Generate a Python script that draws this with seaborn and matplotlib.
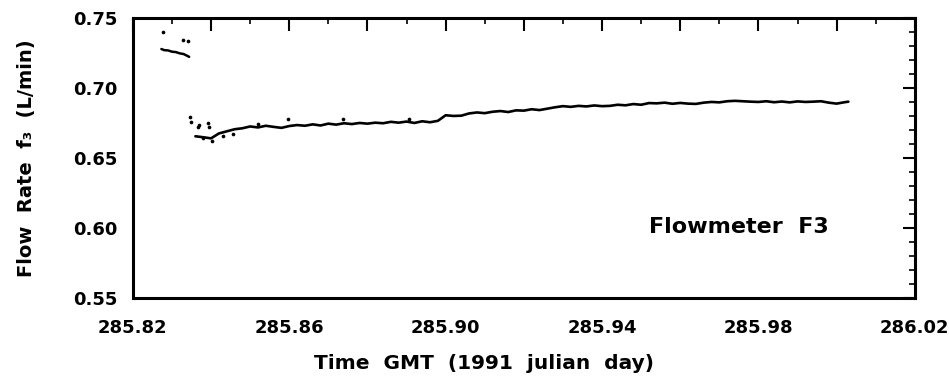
import matplotlib
matplotlib.use("Agg")
import matplotlib.pyplot as plt
from matplotlib.ticker import FixedLocator, MultipleLocator
import seaborn as sns

# Flowmeter F3 record
# short first stretch before the drop
upper_time = [285.8273, 285.8280, 285.8290, 285.8300, 285.8310,
              285.8320, 285.8330, 285.8340, 285.8344]
upper_flow = [0.7278, 0.7270, 0.7268, 0.7259, 0.7256,
              0.7247, 0.7242, 0.7228, 0.7222]

# main trace after the drop
lower_time = [285.836, 285.838, 285.840, 285.842, 285.844, 285.846, 285.848,
              285.850, 285.852, 285.854, 285.856, 285.858, 285.860, 285.862,
              285.864, 285.866, 285.868, 285.870, 285.872, 285.874, 285.876,
              285.878, 285.880, 285.882, 285.884, 285.886, 285.888, 285.890,
              285.892, 285.894, 285.896, 285.898, 285.900, 285.902, 285.904,
              285.906, 285.908, 285.910, 285.912, 285.914, 285.916, 285.918,
              285.920, 285.922, 285.924, 285.926, 285.928, 285.930, 285.932,
              285.934, 285.936, 285.938, 285.940, 285.942, 285.944, 285.946,
              285.948, 285.950, 285.952, 285.954, 285.956, 285.958, 285.960,
              285.962, 285.964, 285.966, 285.968, 285.970, 285.972, 285.974,
              285.976, 285.978, 285.980, 285.982, 285.984, 285.986, 285.988,
              285.990, 285.992, 285.994, 285.996, 285.998, 286.000, 286.002,
              286.003]
lower_flow = [0.6655, 0.6648, 0.6640, 0.6675, 0.6690, 0.6705, 0.6712,
              0.6725, 0.6718, 0.6730, 0.6722, 0.6715, 0.6728, 0.6735,
              0.6730, 0.6740, 0.6732, 0.6745, 0.6738, 0.6748, 0.6742,
              0.6750, 0.6745, 0.6752, 0.6748, 0.6758, 0.6752, 0.6760,
              0.6750, 0.6762, 0.6755, 0.6765, 0.6805, 0.6800, 0.6802,
              0.6818, 0.6825, 0.6820, 0.6830, 0.6835, 0.6828, 0.6840,
              0.6838, 0.6848, 0.6842, 0.6852, 0.6862, 0.6870, 0.6865,
              0.6872, 0.6868, 0.6875, 0.6870, 0.6872, 0.6880, 0.6876,
              0.6885, 0.6880, 0.6892, 0.6890, 0.6895, 0.6887, 0.6893,
              0.6888, 0.6886, 0.6895, 0.6900, 0.6897, 0.6905, 0.6908,
              0.6905, 0.6902, 0.6900, 0.6905, 0.6898, 0.6903, 0.6897,
              0.6904, 0.6900, 0.6902, 0.6905, 0.6895, 0.6888, 0.6898,
              0.6902]

# stray single readings
dot_time = [285.8278, 285.8327, 285.8341, 285.8346, 285.8348, 285.8366,
            285.8369, 285.8380, 285.8392, 285.8396, 285.8402, 285.8430,
            285.8455, 285.8520, 285.8597, 285.8737, 285.8905]
dot_flow = [0.7397, 0.7344, 0.7333, 0.6790, 0.6755, 0.6720,
            0.6733, 0.6642, 0.6747, 0.6718, 0.6618, 0.6660,
            0.6668, 0.6745, 0.6776, 0.6775, 0.6780]

x_ticks = [285.82, 285.84, 285.86, 285.88, 285.90, 285.92,
           285.94, 285.96, 285.98, 286.00, 286.02]
x_tick_labels = ["285.82", "", "285.86", "", "285.90", "",
                 "285.94", "", "285.98", "", "286.02"]
y_ticks = [0.55, 0.60, 0.65, 0.70, 0.75]
y_tick_labels = ["0.55", "0.60", "0.65", "0.70", "0.75"]

sns.set_style("white")
plt.rcParams["font.family"] = ["DejaVu Sans"]
plt.rcParams["font.weight"] = "bold"
plt.rcParams["text.color"] = "black"
plt.rcParams["axes.labelcolor"] = "black"
plt.rcParams["xtick.color"] = "black"
plt.rcParams["ytick.color"] = "black"

fig = plt.figure(figsize=(9.49, 3.79), dpi=100)
ax = fig.add_axes([0.140, 0.2137, 0.824, 0.739])

sns.lineplot(x=upper_time, y=upper_flow, ax=ax, color="black", lw=1.8)
sns.lineplot(x=lower_time, y=lower_flow, ax=ax, color="black", lw=1.9)
sns.scatterplot(x=dot_time, y=dot_flow, ax=ax, color="black", s=7, linewidth=0)

ax.set_xlim(285.82, 286.02)
ax.set_ylim(0.55, 0.75)

ax.xaxis.set_major_locator(FixedLocator(x_ticks))
ax.set_xticklabels(x_tick_labels)
ax.xaxis.set_minor_locator(MultipleLocator(0.01))
ax.yaxis.set_major_locator(FixedLocator(y_ticks))
ax.set_yticklabels(y_tick_labels)
ax.yaxis.set_minor_locator(MultipleLocator(0.01))

ax.tick_params(which="both", direction="in", top=True, right=True,
               color="black", labelcolor="black")
ax.tick_params(which="major", length=9, width=1.5, labelsize=13)
ax.tick_params(which="minor", length=4.5, width=1.2)
ax.tick_params(axis="x", which="major", pad=15)
ax.tick_params(axis="y", which="major", pad=11)

for spine in ax.spines.values():
    spine.set_linewidth(2.2)
    spine.set_color("black")

ax.set_xlabel("Time  GMT  (1991  julian  day)", fontsize=14.5,
              fontweight="bold", color="black")
ax.xaxis.set_label_coords(0.449, -0.20)
ax.set_ylabel("Flow  Rate  f\u2083  (L/min)", fontsize=14,
              fontweight="bold", color="black")
ax.yaxis.set_label_coords(-0.124, 0.5)

ax.text(285.975, 0.601, "Flowmeter  F3", ha="center", va="center",
        fontsize=16, fontweight="bold", color="black")

fig.savefig("out.png", dpi=100)
